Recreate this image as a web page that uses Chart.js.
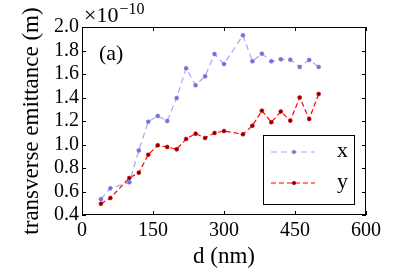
<!DOCTYPE html>
<html>
<head>
<meta charset="utf-8">
<script src="https://cdn.jsdelivr.net/npm/chart.js@4.4.0/dist/chart.umd.min.js"></script>
<style>
  html, body { margin: 0; padding: 0; background: #fff; }
  #wrap { width: 407px; height: 271px; }
</style>
</head>
<body>
<div id="wrap"><canvas id="chart1" width="407" height="271"></canvas></div>
<script>
// distance d (nm)
const dValues = [40, 60, 100, 120, 140, 160, 180, 200, 220, 240, 260, 280, 300, 340, 360, 380, 400, 420, 440, 460, 480, 500];
// emittance, in units of 1e-10 m
const emitX = [0.535, 0.627, 0.678, 0.95, 1.194, 1.243, 1.20, 1.396, 1.648, 1.504, 1.58, 1.77, 1.685, 1.929, 1.708, 1.773, 1.708, 1.725, 1.722, 1.66, 1.72, 1.66];
const emitY = [0.496, 0.545, 0.715, 0.76, 0.913, 0.993, 0.979, 0.959, 1.047, 1.092, 1.055, 1.098, 1.115, 1.087, 1.16, 1.288, 1.19, 1.28, 1.203, 1.40, 1.217, 1.43];
const seriesNames = ['x', 'y'];
const xTicks = [0, 150, 300, 450, 600];
const yTicks = [0.4, 0.6, 0.8, 1.0, 1.2, 1.4, 1.6, 1.8, 2.0];

const serif = "'Liberation Serif', 'DejaVu Serif', serif";

const blueLine = 'rgb(165,165,255)';
const bluePoint = 'rgb(115,115,215)';
const redLine = 'rgb(255,0,0)';
const redPoint = 'rgb(120,0,0)';

const frame = {
  id: 'frame',
  afterDraw(chart) {
    const c = chart.ctx, a = chart.chartArea;
    const xs = chart.scales.x, ys = chart.scales.y;
    c.save();
    c.strokeStyle = '#000';
    c.lineWidth = 1;
    c.strokeRect(a.left + 0.5, a.top + 0.5, a.right - a.left - 1, a.bottom - a.top - 1);
    c.beginPath();
    xTicks.forEach(v => {
      const px = Math.round(xs.getPixelForValue(v)) + 0.5;
      c.moveTo(px, a.bottom); c.lineTo(px, a.bottom - 4);
      c.moveTo(px, a.top); c.lineTo(px, a.top + 4);
    });
    yTicks.forEach(v => {
      const py = Math.round(ys.getPixelForValue(v)) + 0.5;
      c.moveTo(a.left, py); c.lineTo(a.left + 4, py);
      c.moveTo(a.right, py); c.lineTo(a.right - 4, py);
    });
    c.stroke();

    // exponent label
    c.fillStyle = '#000';
    c.textBaseline = 'alphabetic';
    c.font = '22px ' + serif;
    c.fillText('\u00d710', a.left + 2, a.top - 5);
    const w = c.measureText('\u00d710').width;
    c.font = '16px ' + serif;
    c.fillText('\u221210', a.left + 3 + w, a.top - 13);

    // panel label
    c.font = '22px ' + serif;
    c.fillText('(a)', a.left + 17, a.top + 33);

    // legend
    const lx = 263, ly = 135, lw = 91, lh = 69;
    c.fillStyle = '#fff';
    c.fillRect(lx, ly, lw, lh);
    c.lineWidth = 1;
    c.strokeStyle = '#000';
    c.strokeRect(lx + 0.5, ly + 0.5, lw, lh);
    chart.data.datasets.forEach((ds, i) => {
      const yy = ly + 17 + i * 31;
      c.save();
      c.strokeStyle = ds.borderColor;
      c.lineWidth = ds.borderWidth;
      c.setLineDash(ds.borderDash);
      c.beginPath();
      c.moveTo(lx + 8, yy); c.lineTo(lx + 52, yy);
      c.stroke();
      c.restore();
      c.beginPath();
      c.arc(lx + 31, yy, 2, 0, Math.PI * 2);
      c.fillStyle = ds.pointBackgroundColor;
      c.fill();
      c.fillStyle = '#000';
      c.font = '22px ' + serif;
      c.fillText(ds.label, lx + 74, yy + 5);
    });
    c.restore();
  }
};

const ctx1 = document.getElementById('chart1').getContext('2d');
const myChart1 = new Chart(ctx1, {
  type: 'line',
  data: {
    labels: dValues,
    datasets: [{
      label: seriesNames[0],
      data: dValues.map((d, i) => ({x: d, y: emitX[i]})),
      borderColor: blueLine,
      borderWidth: 1.2,
      borderDash: [6, 4],
      pointRadius: 2,
      pointBackgroundColor: bluePoint,
      pointBorderColor: bluePoint,
      pointBorderWidth: 0.5,
      tension: 0
    }, {
      label: seriesNames[1],
      data: dValues.map((d, i) => ({x: d, y: emitY[i]})),
      borderColor: redLine,
      borderWidth: 1.2,
      borderDash: [5, 3],
      pointRadius: 2,
      pointBackgroundColor: redPoint,
      pointBorderColor: redLine,
      pointBorderWidth: 0.6,
      tension: 0
    }]
  },
  options: {
    responsive: false,
    animation: false,
    layout: { padding: { top: 27, right: 41, left: 0, bottom: 0 } },
    plugins: { legend: { display: false }, tooltip: { enabled: false } },
    scales: {
      x: {
        type: 'linear',
        min: 0, max: 600,
        afterBuildTicks: s => { s.ticks = xTicks.map(v => ({value: v})); },
        afterFit: s => { s.height = 56; },
        grid: { display: false, drawTicks: false },
        border: { display: false },
        ticks: { color: '#000', padding: 4, maxRotation: 0, autoSkip: false, font: { family: serif, size: 20 } },
        title: { display: true, text: 'd (nm)', color: '#000', padding: { top: 0, bottom: 0 }, font: { family: serif, size: 23 } }
      },
      y: {
        min: 0.4, max: 2.0,
        afterBuildTicks: s => { s.ticks = yTicks.map(v => ({value: v})); },
        afterFit: s => { s.width = 82; },
        grid: { display: false, drawTicks: false },
        border: { display: false },
        ticks: { color: '#000', padding: 3, autoSkip: false, font: { family: serif, size: 20 }, callback: v => v.toFixed(1) },
        title: { display: true, text: 'transverse emittance (m)', color: '#000', padding: { top: 18, bottom: 0 }, font: { family: serif, size: 23 } }
      }
    }
  },
  plugins: [frame]
});
</script>
</body>
</html>
